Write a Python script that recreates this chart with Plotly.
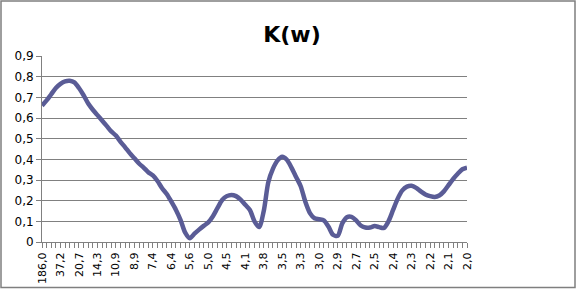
import plotly.graph_objects as go

# K(w) values, one per category (93 categories, labels shown every 4th)
k_values = [
    0.66, 0.685, 0.715, 0.745, 0.765, 0.777, 0.78, 0.772, 0.745, 0.71,
    0.67, 0.64, 0.614, 0.588, 0.562, 0.535, 0.515, 0.485, 0.458, 0.43,
    0.405, 0.38, 0.36, 0.338, 0.322, 0.295, 0.26, 0.232, 0.195, 0.155,
    0.106, 0.045, 0.018, 0.04, 0.06, 0.078, 0.095, 0.125, 0.165, 0.203,
    0.222, 0.228, 0.222, 0.205, 0.18, 0.155, 0.1, 0.072, 0.15, 0.29,
    0.355, 0.395, 0.412, 0.398, 0.36, 0.315, 0.27, 0.195, 0.14, 0.115,
    0.11, 0.105, 0.075, 0.035, 0.03, 0.09, 0.12, 0.122, 0.105, 0.08,
    0.07, 0.07, 0.077, 0.072, 0.068, 0.1, 0.155, 0.21, 0.25, 0.268,
    0.272, 0.262, 0.245, 0.23, 0.222, 0.218, 0.225, 0.245, 0.275, 0.305,
    0.33, 0.352, 0.36,
]

x_tick_labels = [
    "186,0", "37,2", "20,7", "14,3", "10,9", "8,9", "7,4", "6,4", "5,6", "5,0",
    "4,5", "4,1", "3,8", "3,5", "3,3", "3,0", "2,9", "2,7", "2,5", "2,4",
    "2,3", "2,2", "2,1", "2,0",
]
label_step = 4

y_tick_vals = [0, 0.1, 0.2, 0.3, 0.4, 0.5, 0.6, 0.7, 0.8, 0.9]
y_tick_text = ["0", "0,1", "0,2", "0,3", "0,4", "0,5", "0,6", "0,7", "0,8", "0,9"]

n = len(k_values)
x_idx = list(range(n))
tick_text = [""] * n
for j, lab in enumerate(x_tick_labels):
    tick_text[j * label_step] = lab

W, H = 576, 289
ml, mr, mt, mb = 42, 109, 56, 47
pw, ph = W - ml - mr, H - mt - mb

fig = go.Figure()
fig.add_trace(go.Scatter(
    x=x_idx, y=k_values, mode="lines",
    line=dict(color="#5a5c96", width=4.5, shape="spline", smoothing=0.8),
    showlegend=False, hoverinfo="skip",
))

xfont = dict(family="DejaVu Sans", size=11, color="#000000")
yfont = dict(family="DejaVu Sans", size=12, color="#000000")

fig.update_layout(
    width=W, height=H,
    margin=dict(l=ml, r=mr, t=mt, b=mb, pad=0, autoexpand=False),
    paper_bgcolor="white", plot_bgcolor="white",
    font=xfont,
    title=dict(text="<b>K(w)</b>", x=292 / W, xanchor="center", y=1 - 34 / H,
               yanchor="middle", font=dict(family="DejaVu Sans", size=22, color="#000000")),
    xaxis=dict(
        range=[0, n - 1], tickmode="array", tickvals=x_idx, ticktext=tick_text,
        tickangle=-90, ticks="outside", ticklen=5, tickcolor="#808080", tickwidth=1,
        showline=True, linecolor="#808080", linewidth=1, showgrid=False, zeroline=False,
        tickfont=xfont, fixedrange=True, automargin=False,
    ),
    yaxis=dict(
        range=[0, 0.9], tickmode="array", tickvals=y_tick_vals, ticktext=y_tick_text,
        ticks="outside", ticklen=5, tickcolor="#808080", tickwidth=1,
        showline=True, linecolor="#808080", linewidth=1,
        showgrid=True, gridcolor="#808080", gridwidth=1, zeroline=False,
        tickfont=yfont, fixedrange=True, automargin=False,
    ),
    shapes=[dict(
        type="rect", xref="paper", yref="paper",
        x0=(1 - ml) / pw, x1=(W - 1 - ml) / pw,
        y0=(H - mb - (H - 1.5)) / ph, y1=(H - mb - 1) / ph,
        line=dict(color="#7f7f7f", width=1.5), fillcolor="rgba(0,0,0,0)", layer="above",
    )],
)

fig.write_html("out.html")
